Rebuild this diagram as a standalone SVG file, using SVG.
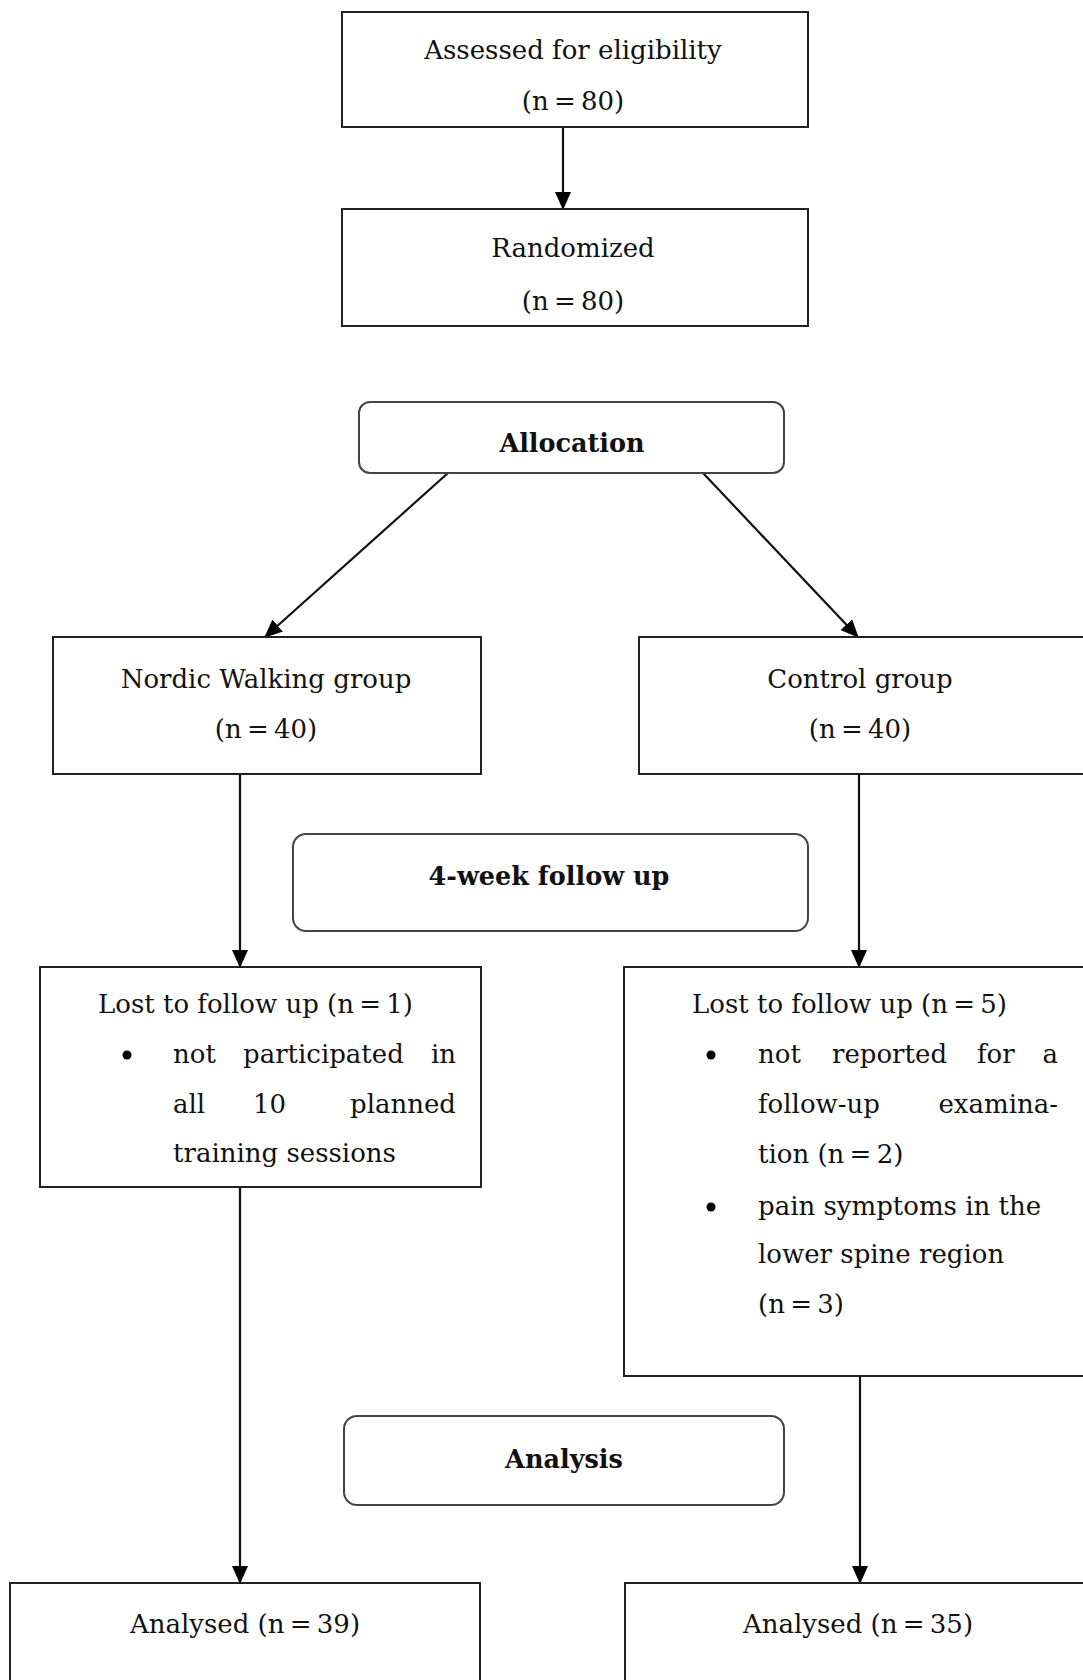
<svg xmlns="http://www.w3.org/2000/svg" width="1083" height="1680" viewBox="0 0 1083 1680">
<style>
.box{fill:#fff;stroke:#222;stroke-width:2}
.rbox{fill:#fff;stroke:#444;stroke-width:2}
text{font-family:"DejaVu Serif","Liberation Serif",serif;font-size:26px;fill:#111}
.c{text-anchor:middle}
.e{text-anchor:end}
.b{font-weight:bold;font-size:25.5px}
.n{word-spacing:-3px}
.ln{stroke:#111;stroke-width:2.2;fill:none}
</style>
<defs>
<marker id="ah" viewBox="0 0 18 16" refX="17" refY="8" markerWidth="18" markerHeight="16" markerUnits="userSpaceOnUse" orient="auto">
<path d="M0,0 L18,8 L0,16 Z" fill="#000"/>
</marker>
</defs>
<rect width="1083" height="1680" fill="#fff"/>
<g id="connectors">
<line class="ln" x1="563" y1="127" x2="563" y2="209" marker-end="url(#ah)"/>
<line class="ln" x1="448" y1="473" x2="265" y2="637" marker-end="url(#ah)"/>
<line class="ln" x1="703" y1="473" x2="858" y2="637" marker-end="url(#ah)"/>
<line class="ln" x1="240" y1="774" x2="240" y2="967" marker-end="url(#ah)"/>
<line class="ln" x1="859" y1="774" x2="859" y2="967" marker-end="url(#ah)"/>
<line class="ln" x1="240" y1="1187" x2="240" y2="1583" marker-end="url(#ah)"/>
<line class="ln" x1="860" y1="1376" x2="860" y2="1583" marker-end="url(#ah)"/>
</g>
<g id="assessed">
<rect class="box" x="342" y="12" width="466" height="115"/>
<text class="c" x="573" y="59">Assessed for eligibility</text>
<text class="c n" x="573" y="110">(n = 80)</text>
</g>
<g id="randomized">
<rect class="box" x="342" y="209" width="466" height="117"/>
<text class="c" x="573" y="257">Randomized</text>
<text class="c n" x="573" y="310">(n = 80)</text>
</g>
<g id="allocation">
<rect class="rbox" x="359" y="402" width="425" height="71" rx="11"/>
<text class="c b" x="572" y="452">Allocation</text>
</g>
<g id="nordic">
<rect class="box" x="53" y="637" width="428" height="137"/>
<text class="c" x="266" y="688">Nordic Walking group</text>
<text class="c n" x="266" y="738">(n = 40)</text>
</g>
<g id="control">
<rect class="box" x="639" y="637" width="460" height="137"/>
<text class="c" x="860" y="688">Control group</text>
<text class="c n" x="860" y="738">(n = 40)</text>
</g>
<g id="followup">
<rect class="rbox" x="293" y="834" width="515" height="97" rx="13"/>
<text class="c b" x="549" y="885">4-week follow up</text>
</g>
<g id="lost-left">
<rect class="box" x="40" y="967" width="441" height="220"/>
<text x="98" y="1013">Lost to follow up <tspan class="n">(n = 1)</tspan></text>
<circle cx="127" cy="1055" r="4.5" fill="#000"/>
<text x="173" y="1063">not</text>
<text x="243" y="1063">participated</text>
<text class="e" x="456" y="1063">in</text>
<text x="173" y="1113">all</text>
<text x="253" y="1113">10</text>
<text class="e" x="456" y="1113">planned</text>
<text x="173" y="1162">training sessions</text>
</g>
<g id="lost-right">
<rect class="box" x="624" y="967" width="470" height="409"/>
<text x="692" y="1013">Lost to follow up <tspan class="n">(n = 5)</tspan></text>
<circle cx="711" cy="1055" r="4.5" fill="#000"/>
<text x="758" y="1063">not</text>
<text x="832" y="1063">reported</text>
<text x="977" y="1063">for</text>
<text class="e" x="1058" y="1063">a</text>
<text x="758" y="1113">follow-up</text>
<text class="e" x="1058" y="1113">examina-</text>
<text x="758" y="1163">tion <tspan class="n">(n = 2)</tspan></text>
<circle cx="711" cy="1207" r="4.5" fill="#000"/>
<text x="758" y="1215">pain symptoms in the</text>
<text x="758" y="1263">lower spine region</text>
<text class="n" x="758" y="1313">(n = 3)</text>
</g>
<g id="analysis">
<rect class="rbox" x="344" y="1416" width="440" height="89" rx="13"/>
<text class="c b" x="564" y="1468">Analysis</text>
</g>
<g id="analysed-left">
<rect class="box" x="10" y="1583" width="470" height="130"/>
<text class="c" x="245" y="1633">Analysed <tspan class="n">(n = 39)</tspan></text>
</g>
<g id="analysed-right">
<rect class="box" x="625" y="1583" width="470" height="130"/>
<text class="c" x="858" y="1633">Analysed <tspan class="n">(n = 35)</tspan></text>
</g>
</svg>
